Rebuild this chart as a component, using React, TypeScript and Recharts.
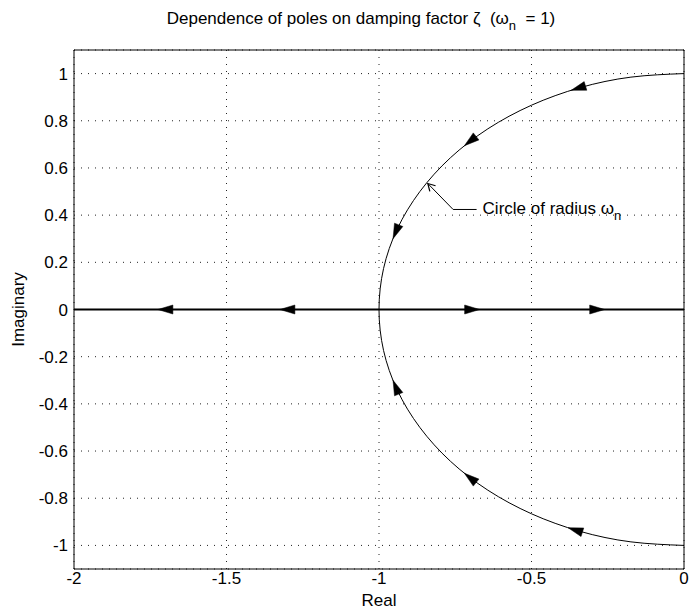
import {
  CartesianGrid,
  ComposedChart,
  Line,
  Scatter,
  XAxis,
  YAxis,
} from "recharts";

// unit circle, from (0, 1) round through (-1, 0) to (0, -1)
const CIRCLE_RE = [
  0, -0.174, -0.342, -0.5, -0.643, -0.766, -0.866, -0.94, -0.985, -1,
  -0.985, -0.94, -0.866, -0.766, -0.643, -0.5, -0.342, -0.174, 0,
];
const CIRCLE_IM = [
  1, 0.985, 0.94, 0.866, 0.766, 0.643, 0.5, 0.342, 0.174, 0,
  -0.174, -0.342, -0.5, -0.643, -0.766, -0.866, -0.94, -0.985, -1,
];

// real axis locus
const AXIS_RE = [-2, 0];
const AXIS_IM = [0, 0];

// arrow tips and their direction of travel
const ARROW_RE = [-0.37, -0.72, -0.954, -0.954, -0.72, -0.38, -1.725, -1.325, -0.67, -0.26];
const ARROW_IM = [0.929, 0.694, 0.3, -0.3, -0.694, -0.925, 0, 0, 0, 0];
const ARROW_DX = [-0.929, -0.694, -0.3, -0.3, -0.694, -0.925, -1, -1, 1, 1];
const ARROW_DY = [-0.37, -0.72, -0.954, 0.954, 0.72, 0.38, 0, 0, 0, 0];

// annotation leader: tip on the circle, elbow, end by the text
const NOTE_RE = [-0.84, -0.757, -0.68];
const NOTE_IM = [0.534, 0.424, 0.424];

const X_TICKS = [-2, -1.5, -1, -0.5, 0];
const Y_TICKS = [-1, -0.8, -0.6, -0.4, -0.2, 0, 0.2, 0.4, 0.6, 0.8, 1];
const X_DOMAIN = [-2, 0];
const Y_DOMAIN = [-1.1, 1.1];

const FONT = '"Liberation Sans", Arial, Helvetica, sans-serif';
const FS = 17;

const PLOT_W = 610;
const PLOT_H = 519;
const SX = PLOT_W / 2; // px per unit, real
const SY = PLOT_H / 2.2; // px per unit, imaginary

const circleData = CIRCLE_RE.map((x, i) => ({ x, y: CIRCLE_IM[i] }));
const axisData = AXIS_RE.map((x, i) => ({ x, y: AXIS_IM[i] }));
const arrowData = ARROW_RE.map((x, i) => ({ x, y: ARROW_IM[i], dx: ARROW_DX[i], dy: ARROW_DY[i] }));
const noteData = NOTE_RE.map((x, i) => ({ x, y: NOTE_IM[i] }));
const noteTip = [{ x: NOTE_RE[0], y: NOTE_IM[0], dx: NOTE_RE[0] - NOTE_RE[1], dy: NOTE_IM[0] - NOTE_IM[1] }];
const noteText = [{ x: NOTE_RE[2], y: NOTE_IM[2] }];

function unit(dx: number, dy: number) {
  const px = dx * SX;
  const py = -dy * SY;
  const l = Math.hypot(px, py);
  return [px / l, py / l];
}

const Arrowhead = (props: any) => {
  const { cx, cy, payload } = props;
  const [ux, uy] = unit(payload.dx, payload.dy);
  const L = 15;
  const W = 4.5;
  const bx = cx - ux * L;
  const by = cy - uy * L;
  const pts = `${cx},${cy} ${bx - uy * W},${by + ux * W} ${bx + uy * W},${by - ux * W}`;
  return <polygon points={pts} fill="#000" stroke="#000" strokeWidth={0.5} />;
};

const OpenHead = (props: any) => {
  const { cx, cy, payload } = props;
  const [ux, uy] = unit(payload.dx, payload.dy);
  const L = 7;
  const W = 4;
  const bx = cx - ux * L;
  const by = cy - uy * L;
  return (
    <path
      d={`M${bx - uy * W},${by + ux * W} L${cx},${cy} L${bx + uy * W},${by - ux * W}`}
      fill="none"
      stroke="#000"
      strokeWidth={1.2}
    />
  );
};

const NoteText = (props: any) => {
  const { cx, cy } = props;
  return (
    <text x={cx + 6} y={cy + 5} fontFamily={FONT} fontSize={FS} fill="#000">
      Circle of radius ω
      <tspan dy={6} fontSize={13}>n</tspan>
    </text>
  );
};

const tickStyle = { fill: "#000", fontSize: FS, fontFamily: FONT };

export default function App() {
  return (
    <div style={{ position: "absolute", left: 0, top: 0, width: 690, height: 615, background: "#fff" }}>
      <ComposedChart width={690} height={615} margin={{ top: 50, right: 6, bottom: 16, left: 0 }}>
        <CartesianGrid stroke="#222" strokeDasharray="1 6" />
        {/* labelled axes */}
        <XAxis
          dataKey="x"
          type="number"
          domain={X_DOMAIN}
          ticks={X_TICKS}
          allowDataOverflow
          height={30}
          tickSize={0}
          tickMargin={3}
          tick={tickStyle}
          axisLine={{ stroke: "#000" }}
          tickLine={false}
          label={{
            value: "",
            content: (p: any) => (
              <text
                x={p.viewBox.x + p.viewBox.width / 2}
                y={p.viewBox.y + 37}
                textAnchor="middle"
                fontFamily={FONT}
                fontSize={FS}
                fill="#000"
              >
                Real
              </text>
            ),
          }}
        />
        <YAxis
          type="number"
          domain={Y_DOMAIN}
          ticks={Y_TICKS}
          allowDataOverflow
          width={74}
          tickSize={0}
          tickMargin={6}
          tick={tickStyle}
          axisLine={{ stroke: "#000" }}
          tickLine={false}
          label={{
            value: "",
            content: (p: any) => {
              const x = p.viewBox.x + 24;
              const y = p.viewBox.y + p.viewBox.height / 2;
              return (
                <text
                  x={x}
                  y={y}
                  transform={`rotate(-90 ${x} ${y})`}
                  textAnchor="middle"
                  fontFamily={FONT}
                  fontSize={FS}
                  fill="#000"
                >
                  Imaginary
                </text>
              );
            },
          }}
        />
        {/* inward tick marks on all four sides, plus top and right frame */}
        <XAxis
          xAxisId="bin"
          orientation="bottom"
          mirror
          dataKey="x"
          type="number"
          domain={X_DOMAIN}
          ticks={X_TICKS}
          allowDataOverflow
          tickSize={5}
          tick={false}
          axisLine={false}
          tickLine={{ stroke: "#000" }}
        />
        <YAxis
          yAxisId="lin"
          orientation="left"
          mirror
          type="number"
          domain={Y_DOMAIN}
          ticks={Y_TICKS}
          allowDataOverflow
          tickSize={5}
          tick={false}
          axisLine={false}
          tickLine={{ stroke: "#000" }}
        />
        <XAxis
          xAxisId="top"
          orientation="top"
          mirror
          dataKey="x"
          type="number"
          domain={X_DOMAIN}
          ticks={X_TICKS}
          allowDataOverflow
          tickSize={5}
          tick={false}
          axisLine={{ stroke: "#000" }}
          tickLine={{ stroke: "#000" }}
          label={{
            value: "",
            content: (p: any) => (
              <text
                x={p.viewBox.x + p.viewBox.width / 2 - 18}
                y={24}
                textAnchor="middle"
                fontFamily={FONT}
                fontSize={FS}
                fill="#000"
              >
                Dependence of poles on damping factor ζ{"\u00a0\u00a0"}(ω
                <tspan dy={6} fontSize={13}>n</tspan>
                <tspan dy={-6}>{"\u00a0\u00a0"}= 1)</tspan>
              </text>
            ),
          }}
        />
        <YAxis
          yAxisId="right"
          orientation="right"
          mirror
          type="number"
          domain={Y_DOMAIN}
          ticks={Y_TICKS}
          allowDataOverflow
          tickSize={5}
          tick={false}
          axisLine={{ stroke: "#000" }}
          tickLine={{ stroke: "#000" }}
        />
        {/* invisible series that keep the extra axes in use */}
        <Line xAxisId="top" yAxisId="right" data={axisData} dataKey="y" stroke="none" dot={false} isAnimationActive={false} />
        <Line xAxisId="bin" yAxisId="lin" data={axisData} dataKey="y" stroke="none" dot={false} isAnimationActive={false} />

        <Line
          data={circleData}
          dataKey="y"
          type="natural"
          stroke="#000"
          strokeWidth={1}
          dot={false}
          isAnimationActive={false}
        />
        <Line
          data={axisData}
          dataKey="y"
          type="linear"
          stroke="#000"
          strokeWidth={2}
          dot={false}
          isAnimationActive={false}
        />
        <Line
          data={noteData}
          dataKey="y"
          type="linear"
          stroke="#000"
          strokeWidth={1}
          dot={false}
          isAnimationActive={false}
        />
        <Scatter data={arrowData} dataKey="y" shape={Arrowhead} isAnimationActive={false} />
        <Scatter data={noteTip} dataKey="y" shape={OpenHead} isAnimationActive={false} />
        <Scatter data={noteText} dataKey="y" shape={NoteText} isAnimationActive={false} />
      </ComposedChart>
    </div>
  );
}
